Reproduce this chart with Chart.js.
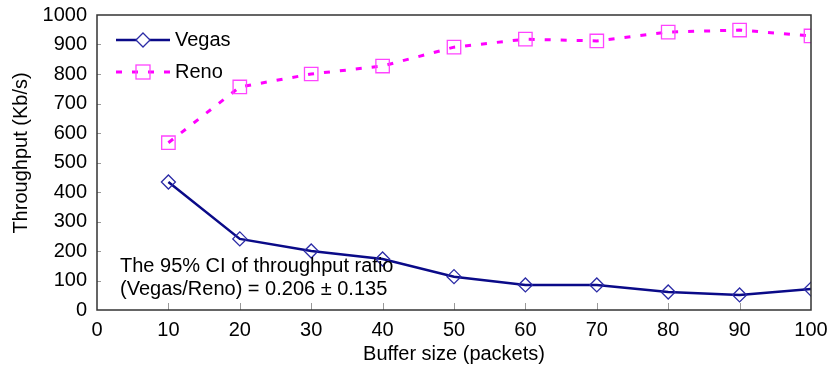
<!DOCTYPE html>
<html><head><meta charset="utf-8">
<script src="https://cdn.jsdelivr.net/npm/chart.js@4/dist/chart.umd.min.js"></script>
<style>html,body{margin:0;padding:0;background:#fff}#wrap{width:832px;height:374px}</style>
</head><body><div id="wrap"><canvas id="c" width="832" height="374"></canvas></div>
<script>
const bufferSizes = [10,20,30,40,50,60,70,80,90,100];
const vegas = [434,241,200,173,113,85,85,61,51,71];
const reno = [567,756,800,827,891,918,912,942,949,929];
const xTicks = [0,10,20,30,40,50,60,70,80,90,100];
const yTicks = [0,100,200,300,400,500,600,700,800,900,1000];
const seriesNames = ['Vegas','Reno'];
const noteLines = ['The 95% CI of throughput ratio','(Vegas/Reno) = 0.206 \u00b1 0.135'];
const xTitle = 'Buffer size (packets)';
const yTitle = 'Throughput (Kb/s)';

const FONT = '"Liberation Sans", Arial, sans-serif';
const VEGAS_LINE = '#0a0a88', VEGAS_PT = '#2b2ba6';
const RENO_LINE = '#ff00ff', RENO_PT = '#ff44ff';

const extras = {
  id: 'extras',
  afterDraw(chart) {
    const ctx = chart.ctx, a = chart.chartArea;
    ctx.save();
    const xs = chart.scales.x, ys = chart.scales.y;
    ctx.strokeStyle = '#999'; ctx.lineWidth = 1;
    xTicks.forEach(v => {
      if (v === 0 || v === 100) return;
      const px = Math.round(xs.getPixelForValue(v)) + 0.5;
      ctx.beginPath(); ctx.moveTo(px, a.bottom); ctx.lineTo(px, a.bottom - 7); ctx.stroke();
    });
    yTicks.forEach(v => {
      if (v === 0 || v === 1000) return;
      const py = Math.round(ys.getPixelForValue(v)) + 0.5;
      ctx.beginPath(); ctx.moveTo(a.left, py); ctx.lineTo(a.left + 4, py); ctx.stroke();
    });
    ctx.strokeStyle = '#333';
    ctx.lineWidth = 1.5;
    ctx.strokeRect(a.left, a.top, a.right - a.left, a.bottom - a.top);
    // legend
    const lx0 = 116, lx1 = 170, lxm = 143;
    ctx.strokeStyle = VEGAS_LINE; ctx.lineWidth = 2.5; ctx.setLineDash([]);
    ctx.beginPath(); ctx.moveTo(lx0, 40); ctx.lineTo(lx1, 40); ctx.stroke();
    ctx.fillStyle = '#fff'; ctx.strokeStyle = VEGAS_PT; ctx.lineWidth = 1.3;
    ctx.beginPath(); ctx.moveTo(lxm, 33); ctx.lineTo(lxm + 7, 40); ctx.lineTo(lxm, 47); ctx.lineTo(lxm - 7, 40); ctx.closePath(); ctx.fill(); ctx.stroke();
    ctx.strokeStyle = RENO_LINE; ctx.lineWidth = 3; ctx.setLineDash([6, 10]);
    ctx.beginPath(); ctx.moveTo(lx0, 72); ctx.lineTo(lx1, 72); ctx.stroke();
    ctx.setLineDash([]);
    ctx.strokeStyle = RENO_PT; ctx.lineWidth = 1.3;
    ctx.strokeRect(lxm - 7, 65, 14, 14);
    ctx.fillStyle = '#000'; ctx.font = '20px ' + FONT; ctx.textBaseline = 'middle'; ctx.textAlign = 'left';
    ctx.fillText(seriesNames[0], 175, 40);
    ctx.fillText(seriesNames[1], 175, 72);
    ctx.fillText(noteLines[0], 120, 266);
    ctx.fillText(noteLines[1], 120, 289);
    // y title
    ctx.translate(21, 153);
    ctx.rotate(-Math.PI / 2);
    ctx.textAlign = 'center';
    ctx.fillText(yTitle, 0, 0);
    ctx.restore();
  }
};

new Chart(document.getElementById('c'), {
  type: 'line',
  data: {
    datasets: [
      { label: seriesNames[0], data: bufferSizes.map((x, i) => ({x, y: vegas[i]})),
        borderColor: VEGAS_LINE, borderWidth: 2.5, pointStyle: 'rectRot', pointRadius: 7,
        pointBorderColor: VEGAS_PT, pointBackgroundColor: 'rgba(255,255,255,0)', pointBorderWidth: 1.3, tension: 0 },
      { label: seriesNames[1], data: bufferSizes.map((x, i) => ({x, y: reno[i]})),
        borderColor: RENO_LINE, borderWidth: 3, borderDash: [6, 10], pointStyle: 'rect', pointRadius: 9.5,
        pointBorderColor: RENO_PT, pointBackgroundColor: 'rgba(255,255,255,0)', pointBorderWidth: 1.3, tension: 0 }
    ]
  },
  options: {
    responsive: false, animation: false, devicePixelRatio: 1,
    layout: { padding: { left: 0, top: 15, right: 21, bottom: 0 } },
    plugins: { legend: { display: false }, tooltip: { enabled: false } },
    scales: {
      x: { type: 'linear', min: 0, max: 100,
        afterBuildTicks: s => { s.ticks = xTicks.map(v => ({value: v})); },
        afterFit: s => { s.height = 64; s.paddingLeft = 0; s.paddingRight = 0; },
        grid: { display: false, drawTicks: false }, border: { display: false },
        ticks: { color: '#000', font: { size: 20, family: FONT }, padding: 8, maxRotation: 0, callback: v => String(v) },
        title: { display: true, text: xTitle, color: '#000', font: { size: 20, family: FONT }, padding: { top: 0, bottom: 8 } } },
      y: { min: 0, max: 1000,
        afterBuildTicks: s => { s.ticks = yTicks.map(v => ({value: v})); },
        afterFit: s => { s.width = 97; s.paddingTop = 0; s.paddingBottom = 0; },
        grid: { display: false, drawTicks: false }, border: { display: false },
        ticks: { color: '#000', font: { size: 20, family: FONT }, padding: 10, callback: v => String(v) },
        title: { display: false, text: yTitle } }
    }
  },
  plugins: [extras]
});
</script></body></html>
